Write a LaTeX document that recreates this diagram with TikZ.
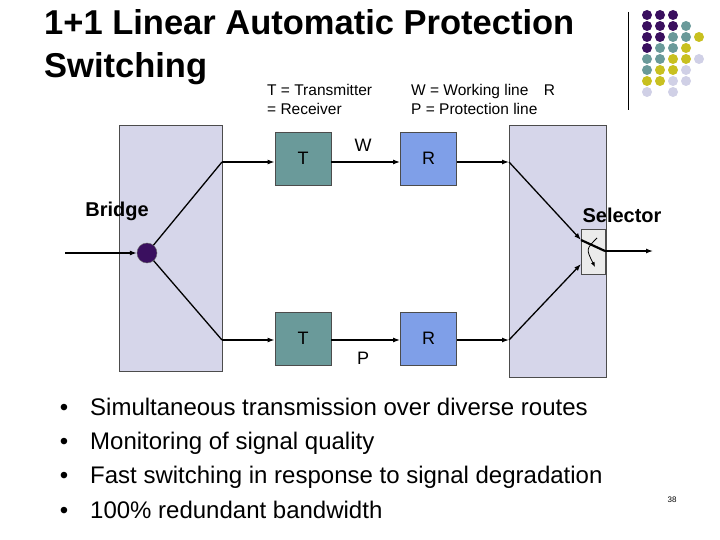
\documentclass[tikz,border=0pt]{standalone}
\usepackage{fontspec}
\setmainfont{Liberation Sans}
\usetikzlibrary{arrows.meta}
\definecolor{pan}{HTML}{D6D6EA}
\definecolor{tcol}{HTML}{6A9A9A}
\definecolor{rcol}{HTML}{7F9FE8}
\definecolor{pur}{HTML}{3A0F5F}
\definecolor{yel}{HTML}{C8C020}
\definecolor{lgt}{HTML}{D0D0E6}
\begin{document}
\begin{tikzpicture}[x=1pt,y=-1pt,
  panel/.style={draw=black!70,fill=pan,inner sep=0,anchor=north west,line width=0.9pt},
  tbox/.style={draw=black!70,fill=tcol,line width=0.9pt,minimum width=56pt,minimum height=53pt,font=\fontsize{18}{18}\selectfont,inner sep=0},
  rbox/.style={tbox,fill=rcol},
  arr/.style={-{Latex[length=7pt,width=5pt]},line width=1.3pt},
  ln/.style={line width=1.3pt},
  lbl/.style={font=\fontsize{15.5}{19}\selectfont,align=left,anchor=north west,inner sep=0},
  dt/.style={circle,inner sep=0,minimum size=10pt}]
\useasboundingbox (0,0) rectangle (720,540);
\node[anchor=north west,inner sep=0,font=\bfseries\fontsize{34.5}{43}\selectfont,align=left] (title) at (44,9) {1+1 Linear Automatic Protection\\Switching};
\node[lbl] (leg1) at (267,84) {T = Transmitter\\= Receiver};
\node[lbl] (leg2) at (411,84) {W = Working line\quad R\\P = Protection line};
\draw[line width=1pt] (628,12) -- (628,110);
\foreach \r/\lst in {1/{pur,pur,pur},2/{pur,pur,pur,tcol},3/{pur,pur,tcol,tcol,yel},4/{pur,tcol,tcol,yel},5/{tcol,tcol,yel,yel,lgt},6/{tcol,yel,yel,lgt},7/{yel,yel,lgt,lgt}}{
  \foreach \c [count=\i] in \lst { \node[dt,fill=\c] (d\r\i) at ({634+13*\i},{4+11*\r}) {}; } }
\node[dt,fill=lgt] (d81) at (647,92) {};
\node[dt,fill=lgt] (d83) at (673,92) {};
\node[panel,minimum width=103pt,minimum height=246pt] (lp) at (119,125) {};
\node[panel,minimum width=97pt,minimum height=252pt] (rp) at (509,125) {};
\node[tbox] (t1) at (303,158.5) {T};
\node[rbox] (r1) at (428.5,158.5) {R};
\node[tbox] (t2) at (303,338.5) {T};
\node[rbox] (r2) at (428.5,338.5) {R};
\node[font=\fontsize{18}{18}\selectfont] (w) at (363,145) {W};
\node[font=\fontsize{18}{18}\selectfont] (p) at (363,358) {P};
\node[font=\bfseries\fontsize{20}{20}\selectfont] (br) at (117,211) {Bridge};
\node[font=\bfseries\fontsize{20}{20}\selectfont] (se) at (622,215) {Selector};
\node[draw=black!70,fill=black!8,line width=0.9pt,minimum width=24pt,minimum height=45pt,inner sep=0] (sel) at (593,251.5) {};
\node[circle,fill=pur,draw=black!60,minimum size=20pt,inner sep=0] (dot) at (147,253) {};
\coordinate (in) at (65,253);
\coordinate (s1) at (222,162); \coordinate (s2) at (222,340);
\coordinate (m1) at (509,162); \coordinate (m2) at (509,340);
\coordinate (out) at (653,251);
\coordinate (q1) at (581,240); \coordinate (q2) at (581,264); \coordinate (q3) at (605,251);
\draw[arr] (in) -- (dot.west);
\draw[ln] (dot) -- (s1); \draw[ln] (dot) -- (s2);
\draw[arr] (s1) -- (t1.west|-s1); \draw[arr] (s2) -- (t2.west|-s2);
\draw[arr] (t1.east|-s1) -- (r1.west|-s1); \draw[arr] (t2.east|-s2) -- (r2.west|-s2);
\draw[arr] (r1.east|-m1) -- (m1); \draw[arr] (r2.east|-m2) -- (m2);
\draw[arr] (m1) -- (q1); \draw[arr] (m2) -- (q2);
\draw[line width=2.2pt] (q1) -- (q3);
\draw[arr] (q3) -- (out);
\draw[-{Latex[length=5pt,width=4pt]},line width=0.8pt] (597,238) .. controls (586,249) .. (595,267);
\foreach \t [count=\i] in {Simultaneous transmission over diverse routes,Monitoring of signal quality,Fast switching in response to signal degradation,100\% redundant bandwidth}{
  \node[anchor=base west,inner sep=0,font=\fontsize{24}{24}\selectfont] (b\i) at (90,{381+34.3*\i}) {\t};
  \node[anchor=base,inner sep=0,font=\fontsize{24}{24}\selectfont] (bb\i) at (64,{381+34.3*\i}) {•};}
\node[font=\fontsize{8}{8}\selectfont] (pg) at (672,500) {38};
\end{tikzpicture}
\end{document}
